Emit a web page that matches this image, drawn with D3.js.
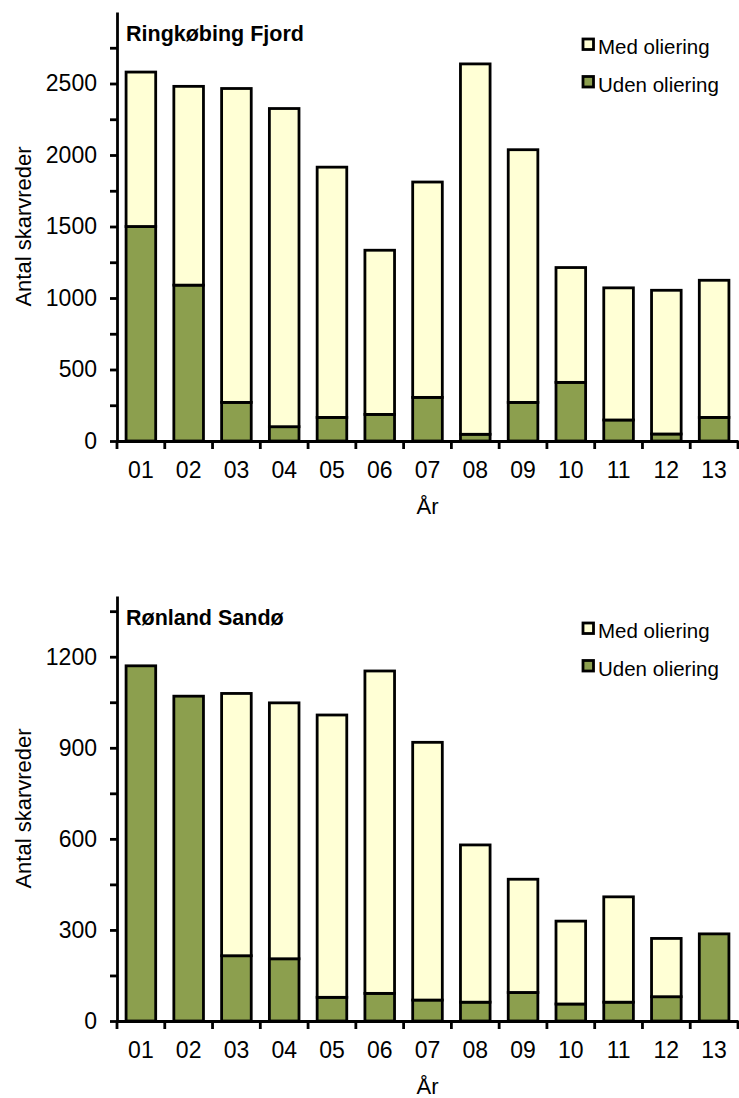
<!DOCTYPE html>
<html>
<head>
<meta charset="utf-8">
<script src="https://cdn.jsdelivr.net/npm/d3@7"></script>
<style>
  body { margin: 0; background: #fff; }
  svg { display: block; font-family: "Liberation Sans", Arial, sans-serif; }
</style>
</head>
<body>
<svg width="739" height="1098"></svg>
<script>
'use strict';

var years = ["01", "02", "03", "04", "05", "06", "07", "08", "09", "10", "11", "12", "13"];
var seriesNames = ["Med oliering", "Uden oliering"];

// Ringkøbing Fjord
var ringUden = [1500, 1090, 270, 100, 165, 186, 305, 47, 270, 410, 147, 49, 165];
var ringMed = [1080, 1390, 2195, 2225, 1750, 1148, 1506, 2590, 1767, 803, 924, 1005, 959];

// Rønland Sandø
var roenUden = [1170, 1070, 215, 205, 78, 91, 69, 62, 94, 56, 62, 80, 287];
var roenMed = [0, 0, 864, 843, 930, 1062, 849, 518, 373, 273, 347, 192, 0];

var ringTicks = [0, 250, 500, 750, 1000, 1250, 1500, 1750, 2000, 2250, 2500, 2750];
var roenTicks = [0, 150, 300, 450, 600, 750, 900, 1050, 1200, 1350];

var green = "#8c9f4e";
var yellow = "#ffffd5";
var lineW = 2.8;

var svg = d3.select("svg");

var panels = [
  { title: "Ringkøbing Fjord", uden: ringUden, med: ringMed, yMax: 3000, ticks: ringTicks, major: 500, top: 12, bottom: 441 },
  { title: "Rønland Sandø", uden: roenUden, med: roenMed, yMax: 1400, ticks: roenTicks, major: 300, top: 596, bottom: 1021 }
];

var left = 117, right = 738;

panels.forEach(function(p) {
  var g = svg.append("g");

  var rows = years.map(function(yr, i) {
    return { year: yr, uden: p.uden[i], med: p.med[i] };
  });
  var stacked = d3.stack().keys(["uden", "med"])(rows);

  var x = d3.scaleBand().domain(years).range([left, right]).paddingInner(0.38).paddingOuter(0.19);
  var y = d3.scaleLinear().domain([0, p.yMax]).range([p.bottom, p.top]);

  g.selectAll(".layer")
    .data(stacked)
    .enter().append("g")
    .attr("fill", function(d) { return d.key === "uden" ? green : yellow; })
    .selectAll("rect")
    .data(function(d) { return d.filter(function(e) { return e[1] - e[0] > 0; }); })
    .enter().append("rect")
    .attr("x", function(d) { return x(d.data.year); })
    .attr("width", x.bandwidth())
    .attr("y", function(d) { return y(d[1]); })
    .attr("height", function(d) { return y(d[0]) - y(d[1]); })
    .attr("stroke", "#000")
    .attr("stroke-width", lineW);

  // x axis: labels from the band scale, ticks at band boundaries
  var xAxis = g.append("g")
    .attr("transform", "translate(0," + p.bottom + ")")
    .call(d3.axisBottom(x).tickSize(0).tickSizeOuter(0).tickPadding(21));
  xAxis.attr("font-family", null);
  xAxis.select(".domain").attr("stroke-width", lineW);
  xAxis.selectAll("text").attr("font-size", 23).attr("fill", "#000");

  var edges = d3.range(years.length + 1).map(function(i) { return left + i * x.step(); });
  xAxis.selectAll(".edge")
    .data(edges)
    .enter().append("line")
    .attr("class", "edge")
    .attr("x1", function(d) { return d; })
    .attr("x2", function(d) { return d; })
    .attr("y1", 0)
    .attr("y2", 8)
    .attr("stroke", "#000")
    .attr("stroke-width", lineW);

  // y axis
  var yAxis = g.append("g")
    .attr("transform", "translate(" + left + ",0)")
    .call(d3.axisLeft(y).tickValues(p.ticks).tickSize(7).tickSizeOuter(0).tickPadding(13)
      .tickFormat(function(d) { return d % p.major === 0 ? d : ""; }));
  yAxis.attr("font-family", null);
  yAxis.select(".domain").attr("stroke-width", lineW);
  yAxis.selectAll(".tick line").attr("stroke-width", lineW);
  yAxis.selectAll("text").attr("font-size", 23).attr("fill", "#000");

  g.append("text")
    .attr("transform", "translate(31," + ((p.top + p.bottom) / 2) + ") rotate(-90)")
    .attr("text-anchor", "middle")
    .attr("font-size", 22)
    .text("Antal skarvreder");

  g.append("text")
    .attr("x", (left + right) / 2)
    .attr("y", p.bottom + 73)
    .attr("text-anchor", "middle")
    .attr("font-size", 22)
    .text("År");

  g.append("text")
    .attr("x", 126)
    .attr("y", p.top + 29)
    .attr("font-size", 21.5)
    .attr("font-weight", "bold")
    .text(p.title);

  // legend
  var legend = g.selectAll(".legend")
    .data(seriesNames)
    .enter().append("g")
    .attr("transform", function(d, i) { return "translate(583," + (p.top + 27 + i * 37.5) + ")"; });
  legend.append("rect")
    .attr("width", 10.5)
    .attr("height", 10.5)
    .attr("fill", function(d, i) { return i === 0 ? yellow : green; })
    .attr("stroke", "#000")
    .attr("stroke-width", lineW);
  legend.append("text")
    .attr("x", 15)
    .attr("y", 15)
    .attr("font-size", 20.5)
    .text(function(d) { return d; });
});
</script>
</body>
</html>
